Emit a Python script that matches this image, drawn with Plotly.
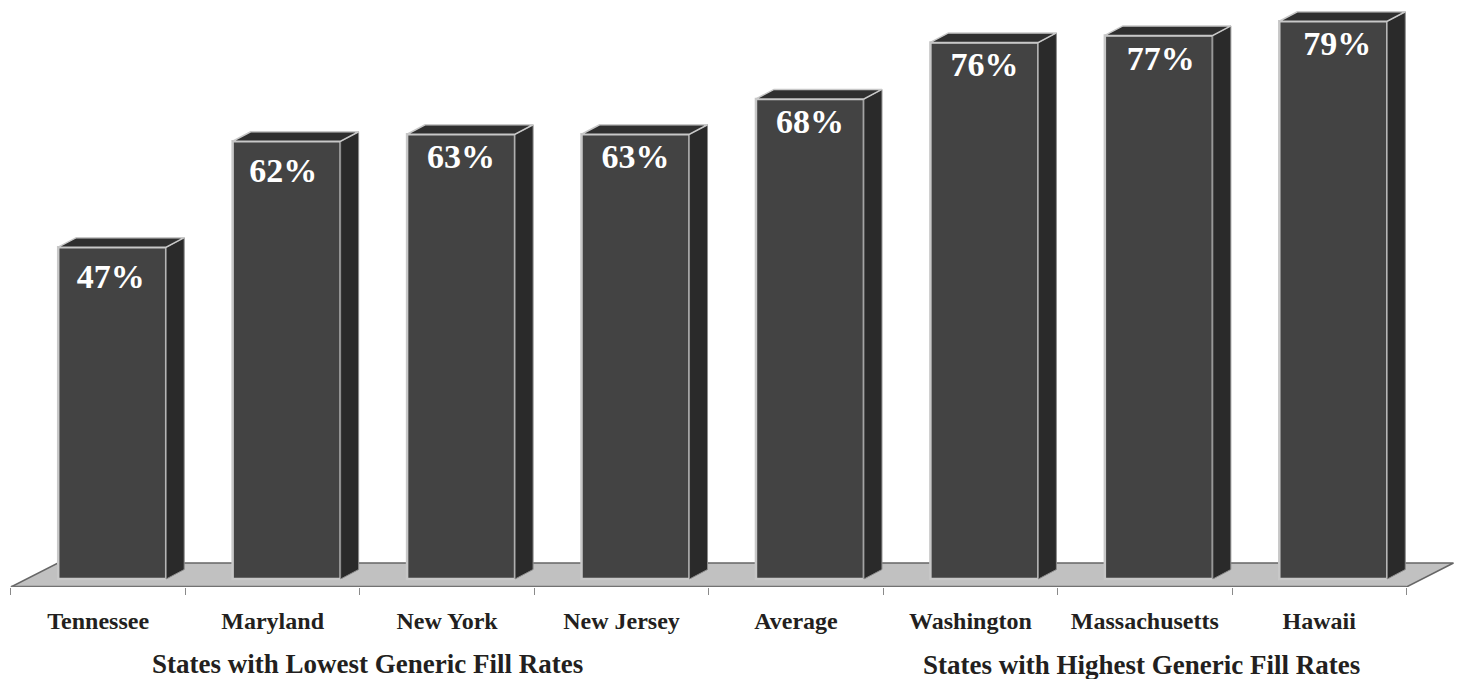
import plotly.graph_objects as go

# Generic fill rate per state, percent
states = ["Tennessee", "Maryland", "New York", "New Jersey",
          "Average", "Washington", "Massachusetts", "Hawaii"]
fill_rates = [47, 62, 63, 63, 68, 76, 77, 79]
group_titles = ["States with Lowest Generic Fill Rates",
                "States with Highest Generic Fill Rates"]

# Canvas and axis calibration, in screen pixels
WIDTH, HEIGHT = 1460, 679
AXIS_BOTTOM_PX = 587
BASE_PX = 579
PX_PER_PCT = 7.06
SLOT_PX = 174.44
FIRST_CENTER_PX = 98.2

def dx(px):
    return px / SLOT_PX

def dy(px):
    return px / PX_PER_PCT

# Extruded bar geometry
BAR_W = dx(108)
BAR_SHIFT = dx(14)
DEPTH_X = dx(18)
DEPTH_Y = dy(9.5)

# Floor slab
FLOOR_FRONT = dy(BASE_PX - AXIS_BOTTOM_PX)
FLOOR_BACK = dy(BASE_PX - 563)
FLOOR_SKEW = dx(47)

# Placement of each value label relative to its bar's top centre
LABEL_DROP_PX = [32, 32, 25, 25, 26, 25, 26, 25]
LABEL_SHIFT_PX = [-1.5, -3.5, 0, 0, 0, 0, 2, 4]

FACE = "#434343"
SIDE = "#2a2a2a"
TOP = "#2f2f2f"
EDGE = "#c8c8c8"
INK = "#231f20"
SERIF = "Liberation Serif"

idx = list(range(len(states)))
edges = [i - 0.5 for i in idx] + [idx[-1] + 0.5]

fig = go.Figure()

# Front faces
fig.add_trace(go.Bar(
    x=idx, y=fill_rates, width=BAR_W, offset=BAR_SHIFT - BAR_W / 2,
    marker=dict(color=FACE, line=dict(color=EDGE, width=2.5)),
    hoverinfo="skip", showlegend=False,
))

# Side and top faces follow each bar's value
for i, v in zip(idx, fill_rates):
    left = i + BAR_SHIFT - BAR_W / 2
    right = left + BAR_W
    fig.add_trace(go.Scatter(
        x=[right, right + DEPTH_X, right + DEPTH_X, right, right],
        y=[0, DEPTH_Y, v + DEPTH_Y, v, 0],
        mode="lines", fill="toself", fillcolor=SIDE,
        line=dict(color="#8c8c8c", width=1),
        hoverinfo="skip", showlegend=False,
    ))
    fig.add_trace(go.Scatter(
        x=[left, left + DEPTH_X, right + DEPTH_X, right, left],
        y=[v, v + DEPTH_Y, v + DEPTH_Y, v, v],
        mode="lines", fill="toself", fillcolor=TOP,
        line=dict(color=EDGE, width=1.5),
        hoverinfo="skip", showlegend=False,
    ))

# Front edge of the floor doubles as the category axis line
fig.add_trace(go.Scatter(
    x=[edges[0], edges[-1]], y=[FLOOR_FRONT, FLOOR_FRONT],
    mode="lines", line=dict(color="#727272", width=2.5),
    cliponaxis=False, hoverinfo="skip", showlegend=False,
))

# Value labels
fig.add_trace(go.Scatter(
    x=[i + BAR_SHIFT + dx(s) for i, s in zip(idx, LABEL_SHIFT_PX)],
    y=[v - dy(d) for v, d in zip(fill_rates, LABEL_DROP_PX)],
    mode="text", text=[f"{v}%" for v in fill_rates],
    textposition="middle center",
    textfont=dict(family=SERIF, size=34, color="white", weight="bold"),
    hoverinfo="skip", showlegend=False,
))

# Floor slab sits behind the bars
floor_path = (
    f"M {edges[0]} {FLOOR_FRONT} L {edges[-1]} {FLOOR_FRONT} "
    f"L {edges[-1] + FLOOR_SKEW} {FLOOR_BACK} L {edges[0] + FLOOR_SKEW} {FLOOR_BACK} Z"
)
fig.add_shape(type="path", path=floor_path, xref="x", yref="y", layer="below",
              fillcolor="#c1c1c1", line=dict(color="#666666", width=1.5))

# Group captions under the category labels
for text, center_px, y_px in zip(group_titles, [367, 1141], [664, 664.5]):
    fig.add_annotation(
        text=f"<b>{text}</b>", xref="paper", yref="paper",
        x=center_px / WIDTH, y=(AXIS_BOTTOM_PX - y_px) / AXIS_BOTTOM_PX,
        xanchor="center", yanchor="middle", showarrow=False,
        borderpad=0, borderwidth=0,
        font=dict(family=SERIF, size=27, color=INK),
    )

fig.update_layout(
    width=WIDTH, height=HEIGHT,
    margin=dict(l=0, r=0, t=0, b=HEIGHT - AXIS_BOTTOM_PX, autoexpand=False),
    plot_bgcolor="white", paper_bgcolor="white",
    xaxis=dict(
        range=[-FIRST_CENTER_PX / SLOT_PX, (WIDTH - FIRST_CENTER_PX) / SLOT_PX],
        tickmode="array", tickvals=idx, ticktext=[f"<b>{s}</b>" for s in states],
        tickfont=dict(family=SERIF, size=24, color=INK),
        ticks="", ticklabelstandoff=17,
        showgrid=False, zeroline=False, showline=False,
        minor=dict(tickmode="array", tickvals=edges, ticks="outside", ticklen=7,
                   tickwidth=1, tickcolor="#8a8a8a", showgrid=False),
    ),
    yaxis=dict(
        range=[dy(BASE_PX - AXIS_BOTTOM_PX), dy(BASE_PX)],
        visible=False, showgrid=False, zeroline=False,
    ),
)

fig.write_html("out.html")
